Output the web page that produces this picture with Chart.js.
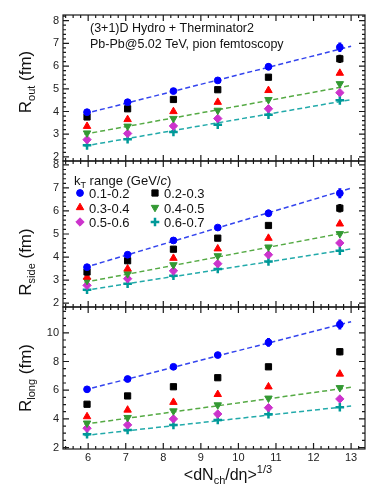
<!DOCTYPE html>
<html>
<head>
<meta charset="utf-8">
<script src="https://cdn.jsdelivr.net/npm/chart.js@4.4.0/dist/chart.umd.min.js"></script>
<style>
  html, body { margin: 0; padding: 0; background: #fff; }
  #wrap { width: 374px; height: 485px; position: relative; }
</style>
</head>
<body>
<div id="wrap"><canvas id="hbtChart"></canvas></div>
<script>
// x positions: <dN_ch/deta>^(1/3) per centrality class
const multX = [5.97, 7.05, 8.27, 9.45, 10.8, 12.7];
const kTBins = ['0.1-0.2', '0.2-0.3', '0.3-0.4', '0.4-0.5', '0.5-0.6', '0.6-0.7'];

// radii per kT bin (rows) vs multiplicity (columns)
const rOut = [
    [3.97, 4.41, 4.90, 5.37, 5.97, 6.83],
    [3.76, 4.12, 4.53, 4.96, 5.51, 6.32],
    [3.35, 3.65, 4.00, 4.41, 4.93, 5.69],
    [3.05, 3.35, 3.69, 4.05, 4.52, 5.22],
    [2.76, 3.03, 3.36, 3.69, 4.12, 4.83],
    [2.51, 2.78, 3.10, 3.42, 3.86, 4.49]
];
const rSide = [
    [3.56, 4.10, 4.72, 5.28, 5.90, 6.77],
    [3.35, 3.84, 4.34, 4.82, 5.37, 6.12],
    [3.13, 3.49, 3.95, 4.36, 4.82, 5.44],
    [2.98, 3.27, 3.66, 4.05, 4.43, 5.01],
    [2.77, 3.06, 3.40, 3.71, 4.10, 4.61],
    [2.58, 2.84, 3.19, 3.48, 3.81, 4.27]
];
const rLong = [
    [6.06, 6.78, 7.63, 8.45, 9.33, 10.58],
    [5.02, 5.60, 6.24, 6.87, 7.63, 8.68],
    [4.16, 4.62, 5.16, 5.71, 6.24, 7.13],
    [3.70, 4.09, 4.55, 4.97, 5.44, 6.17],
    [3.35, 3.58, 4.00, 4.34, 4.78, 5.39],
    [2.93, 3.23, 3.58, 3.92, 4.32, 4.81]
];

// statistical errors (only visible ones for the two lowest kT bins)
const rOutErr  = [[0, 0, 0, 0, 0.12, 0.18], [0, 0, 0, 0, 0, 0.15]];
const rSideErr = [[0, 0, 0, 0, 0.12, 0.18], [0, 0, 0, 0, 0, 0.15]];
const rLongErr = [[0, 0, 0, 0.15, 0.25, 0.3], [0, 0, 0, 0, 0, 0.2]];

// linear fits for kT bins 0.1-0.2, 0.4-0.5, 0.6-0.7 (end points)
const fitX = [5.9, 13.0];
const fitBins = [0, 3, 5];
const rOutFit  = [[3.90, 6.87], [3.00, 5.15], [2.48, 4.52]];
const rSideFit = [[3.54, 6.99], [2.90, 5.11], [2.55, 4.35]];
const rLongFit = [[6.01, 10.77], [3.63, 6.20], [2.84, 4.90]];

const markerColors = ['#0000ff', '#000000', '#ff0000', '#339933', '#cc33cc', '#009999'];
const fitColors = { 0: '#3344ee', 3: '#55aa44', 5: '#22aaaa' };
const markerStyles = [
    { pointStyle: 'circle', radius: 3.4, rotation: 0, borderWidth: 1 },
    { pointStyle: 'rect', radius: 4.4, rotation: 0, borderWidth: 1 },
    { pointStyle: 'triangle', radius: 4.3, rotation: 0, borderWidth: 1 },
    { pointStyle: 'triangle', radius: 4.3, rotation: 180, borderWidth: 1 },
    { pointStyle: 'rectRot', radius: 4.2, rotation: 0, borderWidth: 1 },
    { pointStyle: 'cross', radius: 4.3, rotation: 0, borderWidth: 2.5 }
];

const FONT = "'Liberation Sans', Arial, Helvetica, sans-serif";

// panel definitions (top to bottom)
const panels = [
    { id: 'yOut',  values: rOut,  errs: rOutErr,  fits: rOutFit,  min: 1.82, max: 8.25, step: 1, minor: 0.2, weight: 3, sw: 146, sub: 'out' },
    { id: 'ySide', values: rSide, errs: rSideErr, fits: rSideFit, min: 1.83, max: 8.17, step: 1, minor: 0.2, weight: 2, sw: 146, sub: 'side' },
    { id: 'yLong', values: rLong, errs: rLongErr, fits: rLongFit, min: 1.9,  max: 11.8, step: 2, minor: 0.5, weight: 1, sw: 142, sub: 'long' }
];

const datasets = [];
panels.forEach(p => {
    p.fits.forEach((f, i) => {
        datasets.push({
            type: 'line',
            label: 'fit ' + kTBins[fitBins[i]],
            data: fitX.map((x, j) => ({ x: x, y: f[j] })),
            yAxisID: p.id,
            borderColor: fitColors[fitBins[i]],
            borderWidth: 1.5,
            borderDash: [5, 3],
            pointRadius: 0,
            fill: false,
            order: 2
        });
    });
    p.values.forEach((vals, k) => {
        const st = markerStyles[k];
        datasets.push({
            type: 'scatter',
            label: kTBins[k],
            data: multX.map((x, j) => ({ x: x, y: vals[j] })),
            errors: p.errs[k] || null,
            yAxisID: p.id,
            pointStyle: st.pointStyle,
            pointRadius: st.radius,
            pointRotation: st.rotation,
            pointBorderWidth: st.borderWidth,
            backgroundColor: markerColors[k],
            borderColor: markerColors[k],
            showLine: false,
            order: 1
        });
    });
});

// draws a run of text pieces (normal / subscript / superscript / italic)
function drawRich(ctx, parts, x, y, align) {
    let total = 0;
    parts.forEach(pt => {
        ctx.font = (pt.italic ? 'italic ' : '') + pt.size + 'px ' + FONT;
        pt.w = ctx.measureText(pt.t).width;
        total += pt.w;
    });
    let cx = align === 'center' ? x - total / 2 : x;
    ctx.textAlign = 'left';
    ctx.textBaseline = 'alphabetic';
    parts.forEach(pt => {
        ctx.font = (pt.italic ? 'italic ' : '') + pt.size + 'px ' + FONT;
        ctx.fillText(pt.t, cx, y + (pt.dy || 0));
        cx += pt.w;
    });
}

const errorBarPlugin = {
    id: 'errorBars',
    beforeDatasetsDraw(chart) {
        const ctx = chart.ctx;
        chart.data.datasets.forEach((ds, i) => {
            if (!ds.errors) return;
            const meta = chart.getDatasetMeta(i);
            const ys = chart.scales[ds.yAxisID];
            ctx.save();
            ctx.strokeStyle = ds.borderColor;
            ctx.lineWidth = 1.5;
            meta.data.forEach((pt, j) => {
                const e = ds.errors[j];
                if (!e) return;
                const v = ds.data[j].y;
                const y1 = ys.getPixelForValue(v - e), y2 = ys.getPixelForValue(v + e);
                ctx.beginPath();
                ctx.moveTo(pt.x, y1); ctx.lineTo(pt.x, y2);
                ctx.moveTo(pt.x - 1.5, y1); ctx.lineTo(pt.x + 1.5, y1);
                ctx.moveTo(pt.x - 1.5, y2); ctx.lineTo(pt.x + 1.5, y2);
                ctx.stroke();
            });
            ctx.restore();
        });
    }
};

const framePlugin = {
    id: 'frames',
    afterDatasetsDraw(chart) {
        const { ctx, chartArea: ca, scales } = chart;
        const xs = scales.x;
        ctx.save();
        ctx.strokeStyle = '#1a1a1a';
        ctx.lineWidth = 1.2;
        panels.forEach(p => {
            const ys = scales[p.id];
            ctx.strokeRect(ca.left, ys.top, ca.right - ca.left, ys.bottom - ys.top);
            ctx.beginPath();
            // y ticks, left and right
            for (let k = Math.ceil(ys.min / p.minor - 1e-9); k * p.minor <= ys.max + 1e-9; k++) {
                const v = k * p.minor;
                const major = Math.abs(v / p.step - Math.round(v / p.step)) < 1e-6;
                const len = major ? 6 : 3;
                const py = ys.getPixelForValue(v);
                ctx.moveTo(ca.left, py); ctx.lineTo(ca.left + len, py);
                ctx.moveTo(ca.right, py); ctx.lineTo(ca.right - len, py);
            }
            // x ticks, top and bottom of each panel
            for (let k = Math.ceil(xs.min / 0.2 - 1e-9); k * 0.2 <= xs.max + 1e-9; k++) {
                const v = k * 0.2;
                const major = Math.abs(v - Math.round(v)) < 1e-6;
                const len = major ? 6 : 3;
                const px = xs.getPixelForValue(v);
                ctx.moveTo(px, ys.bottom); ctx.lineTo(px, ys.bottom - len);
                ctx.moveTo(px, ys.top); ctx.lineTo(px, ys.top + len);
            }
            ctx.stroke();
        });
        ctx.restore();
    },
    afterDraw(chart) {
        const { ctx, chartArea: ca, scales } = chart;
        ctx.save();
        ctx.fillStyle = '#111';
        // y axis titles
        const titleY = { yOut: 82, ySide: 262, yLong: 378 };
        panels.forEach(p => {
            ctx.save();
            ctx.translate(31, titleY[p.id]);
            ctx.rotate(-Math.PI / 2);
            drawRich(ctx, [
                { t: 'R', size: 17 },
                { t: p.sub, size: 11, dy: 4 },
                { t: ' (fm)', size: 17 }
            ], 0, 0, 'center');
            ctx.restore();
        });
        // x axis title
        drawRich(ctx, [
            { t: '<dN', size: 16 },
            { t: 'ch', size: 11, dy: 4 },
            { t: '/d\u03b7>', size: 16 },
            { t: '1/3', size: 11, dy: -7 }
        ], 228, 480, 'center');

        // panel 1 annotation
        const top1 = scales.yOut.top;
        drawRich(ctx, [{ t: '(3+1)D Hydro + Therminator2', size: 12.5 }], ca.left + 27, top1 + 17, 'left');
        drawRich(ctx, [{ t: 'Pb-Pb@5.02 TeV, pion femtoscopy', size: 12.5 }], ca.left + 27, top1 + 33, 'left');

        // legend in panel 2
        const top2 = scales.ySide.top;
        drawRich(ctx, [
            { t: 'k', size: 13 },
            { t: 'T', size: 9, dy: 3 },
            { t: ' range (GeV/', size: 13 },
            { t: 'c', size: 13, italic: true },
            { t: ')', size: 13 }
        ], ca.left + 11, top2 + 24, 'left');
        const colX = [ca.left + 17, ca.left + 92];
        const rowY = [top2 + 32, top2 + 46.5, top2 + 61];
        kTBins.forEach((lab, k) => {
            const st = markerStyles[k];
            const mx = colX[k % 2], my = rowY[Math.floor(k / 2)];
            ctx.fillStyle = markerColors[k];
            ctx.strokeStyle = markerColors[k];
            ctx.lineWidth = st.borderWidth;
            Chart.helpers.drawPoint(ctx, { pointStyle: st.pointStyle, radius: st.radius, rotation: st.rotation, borderWidth: st.borderWidth }, mx, my);
            ctx.fillStyle = '#111';
            drawRich(ctx, [{ t: lab, size: 13 }], mx + 9, my + 5, 'left');
        });
        ctx.restore();
    }
};

function panelScale(p) {
    return {
        type: 'linear',
        position: 'left',
        stack: 'panels',
        stackWeight: p.sw,
        weight: p.weight,
        min: p.min,
        max: p.max,
        grid: { display: false, drawTicks: false },
        border: { display: false },
        ticks: {
            stepSize: p.step,
            includeBounds: false,
            autoSkip: false,
            padding: 4,
            color: '#222',
            font: { family: FONT, size: 11 }
        },
        afterFit: s => { s.width = 63; }
    };
}

const scales = {
    x: {
        type: 'linear',
        position: 'bottom',
        min: 5.33,
        max: 13.37,
        grid: { display: false, drawTicks: false },
        border: { display: false },
        ticks: {
            stepSize: 1,
            includeBounds: false,
            autoSkip: false,
            padding: 2,
            color: '#222',
            font: { family: FONT, size: 11 }
        },
        afterFit: s => { s.height = 36; }
    }
};
panels.forEach(p => { scales[p.id] = panelScale(p); });

new Chart(document.getElementById('hbtChart').getContext('2d'), {
    type: 'scatter',
    data: { datasets: datasets },
    options: {
        responsive: true,
        maintainAspectRatio: false,
        animation: false,
        layout: { padding: { top: 15, right: 9, bottom: 0, left: 0 } },
        plugins: {
            legend: { display: false },
            tooltip: { enabled: false }
        },
        scales: scales
    },
    plugins: [errorBarPlugin, framePlugin]
});
</script>
</body>
</html>
